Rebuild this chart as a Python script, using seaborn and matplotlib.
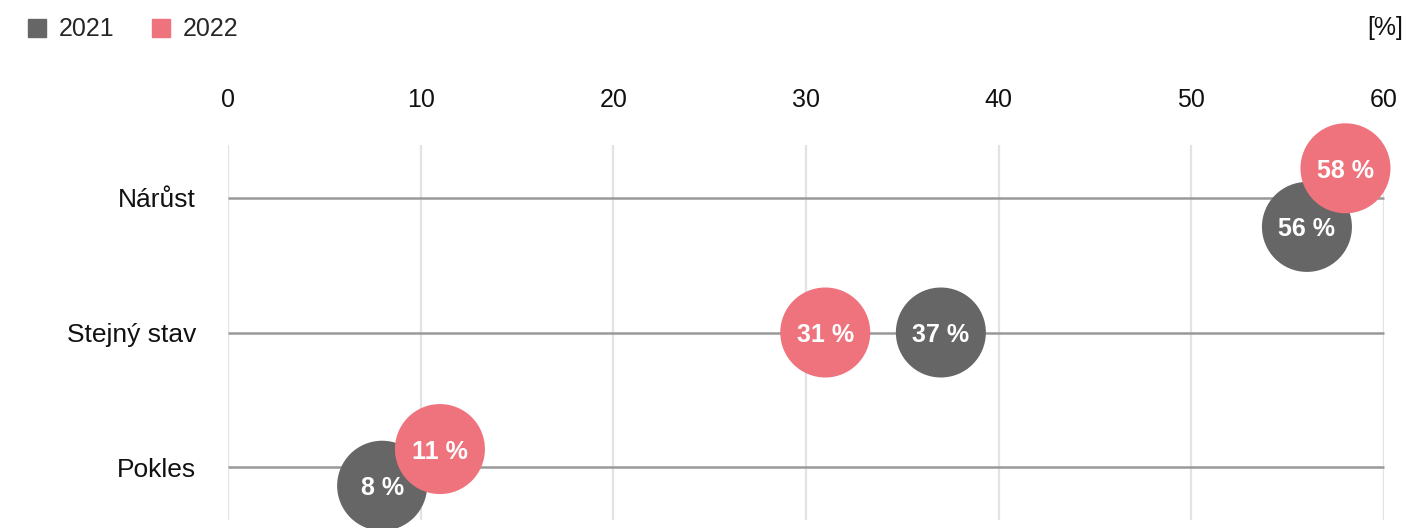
import numpy as np
import pandas as pd
import matplotlib.pyplot as plt
import seaborn as sns
from matplotlib.lines import Line2D

categories = ["Nárůst", "Stejný stav", "Pokles"]
years = ["2021", "2022"]
values_2021 = [56, 37, 8]
values_2022 = [58, 31, 11]
x_ticks = [0, 10, 20, 30, 40, 50, 60]

colors = {"2021": "#666666", "2022": "#ef737d"}

sns.set_theme(style="white")
plt.rcParams["font.family"] = ["Liberation Sans", "DejaVu Sans"]

# marker diameter in data units of x (90 px at 19.27 px per unit)
diam = 4.67


def dodge(a, b):
    # push overlapping bubbles apart vertically, the larger one goes up
    gap = abs(a - b)
    if gap >= diam:
        return 0.0
    return 0.38 * (1 - gap / diam)


rows = []
for i, cat in enumerate(categories):
    d = dodge(values_2021[i], values_2022[i])
    rows.append({"cat": cat, "year": "2021", "value": values_2021[i], "y": i + d})
    rows.append({"cat": cat, "year": "2022", "value": values_2022[i], "y": i - d})
df = pd.DataFrame(rows).sort_values("year", kind="stable")

fig = plt.figure(figsize=(14.07, 5.28), dpi=100)
ax = fig.add_axes([228 / 1407, 8 / 528, (1384 - 228) / 1407, (520 - 145) / 528])

for xt in x_ticks:
    ax.axvline(xt, color="#e3e3e3", lw=1.6, zorder=0)
ax.hlines(range(len(categories)), 0, 60, color="#999999", lw=1.8, zorder=1)

sns.scatterplot(data=df, x="value", y="y", hue="year", palette=colors,
                s=4200, linewidth=0, legend=False, ax=ax, zorder=3)
for coll in ax.collections:
    coll.set_clip_on(False)

for _, r in df.iterrows():
    ax.text(r["value"], r["y"], f"{r['value']} %", color="white", fontsize=18,
            fontweight="bold", ha="center", va="center_baseline", zorder=5)

ax.set_xlim(0, 60)
ax.set_ylim(2.39, -0.39)
ax.set_xticks(x_ticks)
ax.set_yticks(range(len(categories)))
ax.set_yticklabels(categories)
ax.xaxis.tick_top()
ax.tick_params(axis="x", length=0, pad=24, labelsize=18, colors="#111111")
ax.tick_params(axis="y", length=0, pad=23, labelsize=19, colors="#111111")
ax.set_xlabel("")
ax.set_ylabel("")
for s in ax.spines.values():
    s.set_visible(False)

handles = [Line2D([], [], marker="s", ls="", color=colors[y], markersize=13) for y in years]
fig.legend(handles, years, loc="upper left", bbox_to_anchor=(0.005, 1.0), ncol=2,
           frameon=False, fontsize=18, handletextpad=0.35, columnspacing=1.4,
           handlelength=1.0, borderaxespad=0.3)

fig.text(1403 / 1407, 1 - 28 / 528, "[%]", ha="right", va="center", fontsize=18,
         color="#111111")

fig.savefig("out.png", dpi=100)
